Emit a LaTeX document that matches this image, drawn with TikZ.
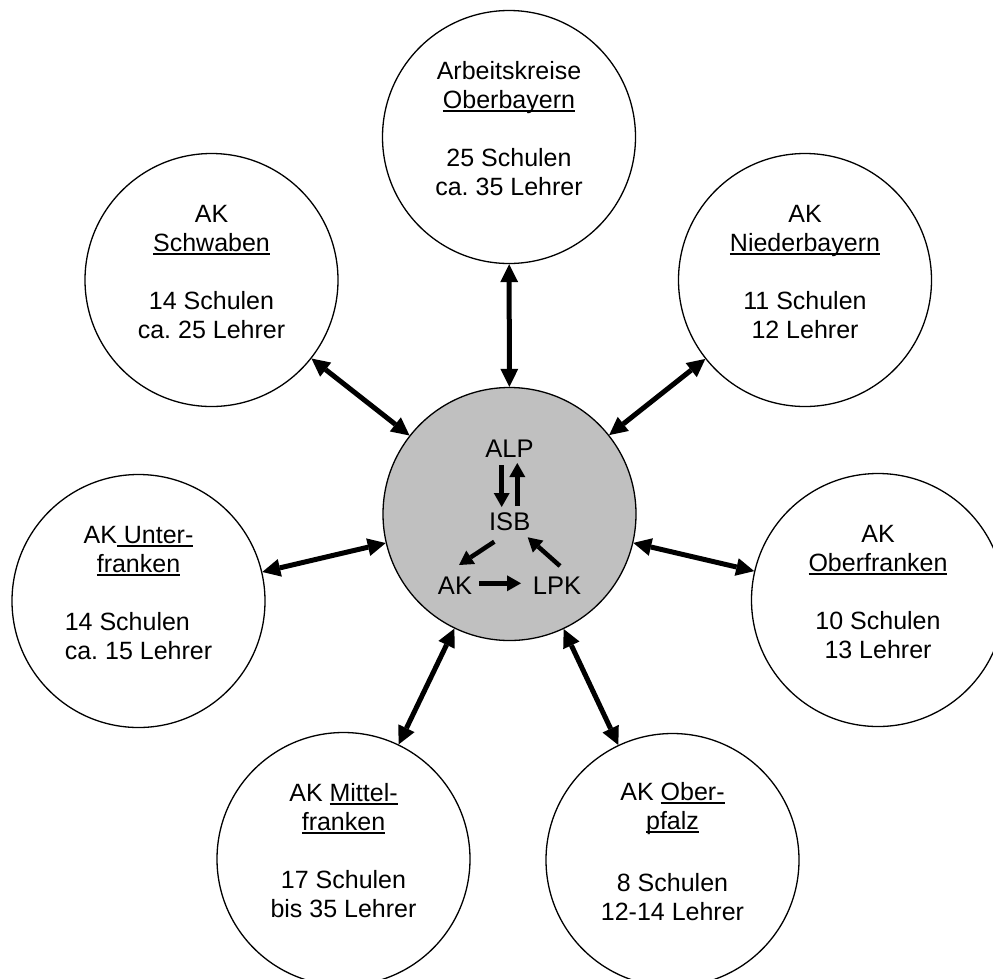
\documentclass[tikz,border=0pt]{standalone}
\usepackage{fontspec}
\setmainfont{Liberation Sans}
\usetikzlibrary{arrows.meta}
\newsavebox\ulbox
\newcommand{\ulx}[1]{\sbox\ulbox{#1}\rlap{\rule[-4pt]{\wd\ulbox}{1.6pt}}\usebox\ulbox}
\newcommand{\tstrut}{\rule{0pt}{18pt}}
\newcommand{\bstrut}{\rule[-18pt]{0pt}{18pt}}
\definecolor{hubgrey}{RGB}{192,192,192}
\frenchspacing
\begin{document}
\frenchspacing
\begin{tikzpicture}[x=1pt,y=-1pt,
  region/.style={circle,draw,line width=1.3pt,minimum size=253pt,inner sep=0pt,
    align=center,font=\fontsize{25}{29}\selectfont\frenchspacing,fill=white},
  hubstyle/.style={circle,draw,line width=1.3pt,minimum size=253pt,inner sep=0pt,fill=hubgrey},
  inlbl/.style={inner sep=0pt,anchor=base,font=\fontsize{25.5}{30}\selectfont},
  outarr/.style={line width=5pt,
    arrows={Triangle[length=18pt,width=18pt,line width=0pt]-Triangle[length=18pt,width=18pt,line width=0pt]}},
  inarr/.style={line width=4.5pt,
    arrows={-Triangle[length=14pt,width=16pt,line width=0pt]}}]
\useasboundingbox (0,0) rectangle (993,978);
\clip (0,0) rectangle (993,978);
\fill[white] (0,0) rectangle (993,978);

% outer circles
\node[region] (obb) at (509,137)
  {\tstrut Arbeitskreise\\\ulx{Oberbayern}\\[29pt]25 Schulen\\ca. 35 Lehrer\bstrut};
\node[region] (ndb) at (805,280)
  {\tstrut AK\\\ulx{Niederbayern}\\[29pt]11 Schulen\\12 Lehrer\bstrut};
\node[region] (ofr) at (878,600)
  {\tstrut AK\\\ulx{Oberfranken}\\[29pt]10 Schulen\\13 Lehrer\bstrut};
\node[region] (opf) at (672.5,860)
  {\tstrut AK \ulx{Ober-}\\\ulx{pfalz}\\[33pt]8 Schulen\\12-14 Lehrer\bstrut};
\node[region] (mfr) at (343.5,859)
  {\tstrut AK \ulx{Mittel-}\\\ulx{franken}\\[29pt]17 Schulen\\bis 35 Lehrer\bstrut};
\node[region] (ufr) at (138.5,601)
  {\tstrut AK\ulx{ Unter-}\\\ulx{franken}\\[29pt]\rlap{14 Schulen}\phantom{ca. 15 Lehrer}\\ca. 15 Lehrer\bstrut};
\node[region] (swb) at (211.5,280)
  {\tstrut AK\\\ulx{Schwaben}\\[29pt]14 Schulen\\ca. 25 Lehrer\bstrut};

% central circle
\node[hubstyle] (hub) at (509.5,514) {};

% connectors
\foreach \n in {obb,ndb,ofr,opf,mfr,ufr,swb}
  \draw[outarr] (\n) -- (hub);

% inner labels
\node[inlbl] (alp) at (509.5,457) {ALP};
\node[inlbl] (isb) at (509.7,530) {ISB};
\node[inlbl] (ak)  at (455,594) {AK};
\node[inlbl] (lpk) at (557,594) {LPK};

% inner arrows
\draw[inarr] ([shift={(-7.8,8)}]alp.base) -- ([shift={(-8,-23)}]isb.base);
\draw[inarr] ([shift={(7.6,-24)}]isb.base) -- ([shift={(7.8,6)}]alp.base);
\draw[inarr] ([shift={(-15.4,11.7)}]isb.base) -- ([shift={(4,-29)}]ak.base);
\draw[inarr] ([shift={(3,-28)}]lpk.base) -- ([shift={(18,7.3)}]isb.base);
\draw[inarr] ([shift={(24.3,-10.7)}]ak.base) -- ([shift={(-36,-10.7)}]lpk.base);
\end{tikzpicture}
\end{document}
